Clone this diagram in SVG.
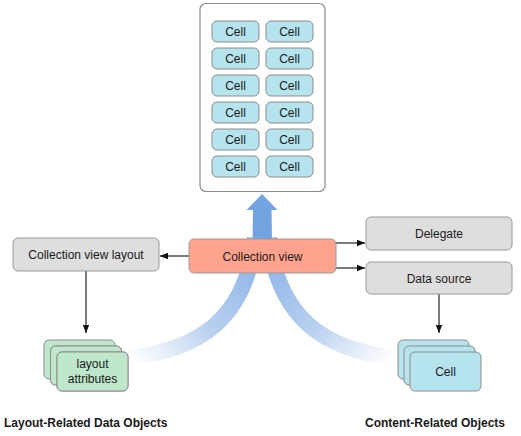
<svg xmlns="http://www.w3.org/2000/svg" width="521" height="436" viewBox="0 0 521 436">
<style>
text{font-family:"Liberation Sans",Arial,sans-serif;font-size:12px;fill:#1a1a1a;text-anchor:middle}
.cell{fill:#B5E3EE;stroke:#8C8C8C;stroke-width:1}
.gray{fill:#DEDEDE;stroke:#9A9A9A;stroke-width:1}
.green{fill:#BFE7CB;stroke:#8C8C8C;stroke-width:1}
.line{stroke:#222;stroke-width:1.2;fill:none;marker-end:url(#ah)}
.bold{font-weight:bold;font-size:12px}
</style>
<defs>
<marker id="ah" viewBox="0 0 10 10" refX="10" refY="5" markerWidth="8" markerHeight="8" markerUnits="userSpaceOnUse" orient="auto">
<path d="M0,1 L10,5 L0,9 z" fill="#111"/>
</marker>
<linearGradient id="gl" gradientUnits="userSpaceOnUse" x1="132" y1="362" x2="250" y2="260">
<stop offset="0" stop-color="#B3CDEE" stop-opacity="0"/>
<stop offset="0.5" stop-color="#A3C2EB" stop-opacity="0.75"/>
<stop offset="1" stop-color="#90B6E8" stop-opacity="1"/>
</linearGradient>
<linearGradient id="gr" gradientUnits="userSpaceOnUse" x1="392" y1="362" x2="274" y2="260">
<stop offset="0" stop-color="#B3CDEE" stop-opacity="0"/>
<stop offset="0.5" stop-color="#A3C2EB" stop-opacity="0.75"/>
<stop offset="1" stop-color="#90B6E8" stop-opacity="1"/>
</linearGradient>
</defs>

<g id="flow">
<path d="M 128 358 C 200 350, 246 318, 255 238" stroke="url(#gl)" stroke-width="16" fill="none"/>
<path d="M 396 358 C 324 350, 278 318, 269 238" stroke="url(#gr)" stroke-width="16" fill="none"/>
<path d="M 252.5 242 L 253 210 L 246.5 210 L 262 194 L 277.5 210 L 271.5 210 L 272 242 z" fill="#74A3E2"/>
</g>

<g id="collection-container">
<rect x="200" y="3.5" width="125" height="188" rx="6" fill="#fff" stroke="#8A8A8A" stroke-width="1.2"/>
</g>
<g id="cells">
<rect class="cell" x="212" y="21" width="47" height="21" rx="5"/><text x="235.5" y="36">Cell</text>
<rect class="cell" x="266" y="21" width="47" height="21" rx="5"/><text x="289.5" y="36">Cell</text>
<rect class="cell" x="212" y="48" width="47" height="21" rx="5"/><text x="235.5" y="63">Cell</text>
<rect class="cell" x="266" y="48" width="47" height="21" rx="5"/><text x="289.5" y="63">Cell</text>
<rect class="cell" x="212" y="75" width="47" height="21" rx="5"/><text x="235.5" y="90">Cell</text>
<rect class="cell" x="266" y="75" width="47" height="21" rx="5"/><text x="289.5" y="90">Cell</text>
<rect class="cell" x="212" y="102" width="47" height="21" rx="5"/><text x="235.5" y="117">Cell</text>
<rect class="cell" x="266" y="102" width="47" height="21" rx="5"/><text x="289.5" y="117">Cell</text>
<rect class="cell" x="212" y="129" width="47" height="21" rx="5"/><text x="235.5" y="144">Cell</text>
<rect class="cell" x="266" y="129" width="47" height="21" rx="5"/><text x="289.5" y="144">Cell</text>
<rect class="cell" x="212" y="156" width="47" height="21" rx="5"/><text x="235.5" y="171">Cell</text>
<rect class="cell" x="266" y="156" width="47" height="21" rx="5"/><text x="289.5" y="171">Cell</text>
</g>

<g id="connectors">
<path class="line" d="M189 256 L160 256"/>
<path class="line" d="M336 243 L365 243"/>
<path class="line" d="M336 268 L365 268"/>
<path class="line" d="M86 271 L86 333"/>
<path class="line" d="M439 294 L439 333"/>
</g>

<g id="collection-view">
<rect x="189" y="239" width="147" height="34" rx="5" fill="#FFA38E" stroke="#9A9A9A" stroke-width="1"/>
<text x="262.5" y="260.5">Collection view</text>
</g>
<g id="layout">
<rect class="gray" x="13" y="238" width="146" height="33" rx="5"/>
<text x="86" y="259">Collection view layout</text>
</g>
<g id="delegate">
<rect class="gray" x="366" y="217" width="146" height="33" rx="5"/>
<text x="439" y="238">Delegate</text>
</g>
<g id="data-source">
<rect class="gray" x="366" y="262" width="146" height="32" rx="5"/>
<text x="439" y="282.5">Data source</text>
</g>
<g id="layout-attributes">
<rect class="green" x="44" y="340" width="71" height="39" rx="5"/>
<rect class="green" x="50.5" y="346" width="71" height="39" rx="5" stroke="#fff" stroke-width="1.5"/>
<rect class="green" x="50.5" y="346" width="71" height="39" rx="5"/>
<rect class="green" x="57" y="352" width="71" height="39" rx="5" stroke="#fff"/>
<rect class="green" x="57" y="352" width="71" height="39" rx="5"/>
<text x="92.5" y="368">layout</text>
<text x="92.5" y="383">attributes</text>
</g>
<g id="cell-stack">
<rect class="cell" x="398" y="340" width="71" height="39" rx="5"/>
<rect class="cell" x="404" y="346" width="71" height="39" rx="5"/>
<rect class="cell" x="410" y="352" width="71" height="39" rx="5"/>
<text x="445.5" y="376">Cell</text>
</g>
<g id="labels">
<text class="bold" x="4" y="427" style="text-anchor:start">Layout-Related Data Objects</text>
<text class="bold" x="505" y="427" style="text-anchor:end">Content-Related Objects</text>
</g>
</svg>
